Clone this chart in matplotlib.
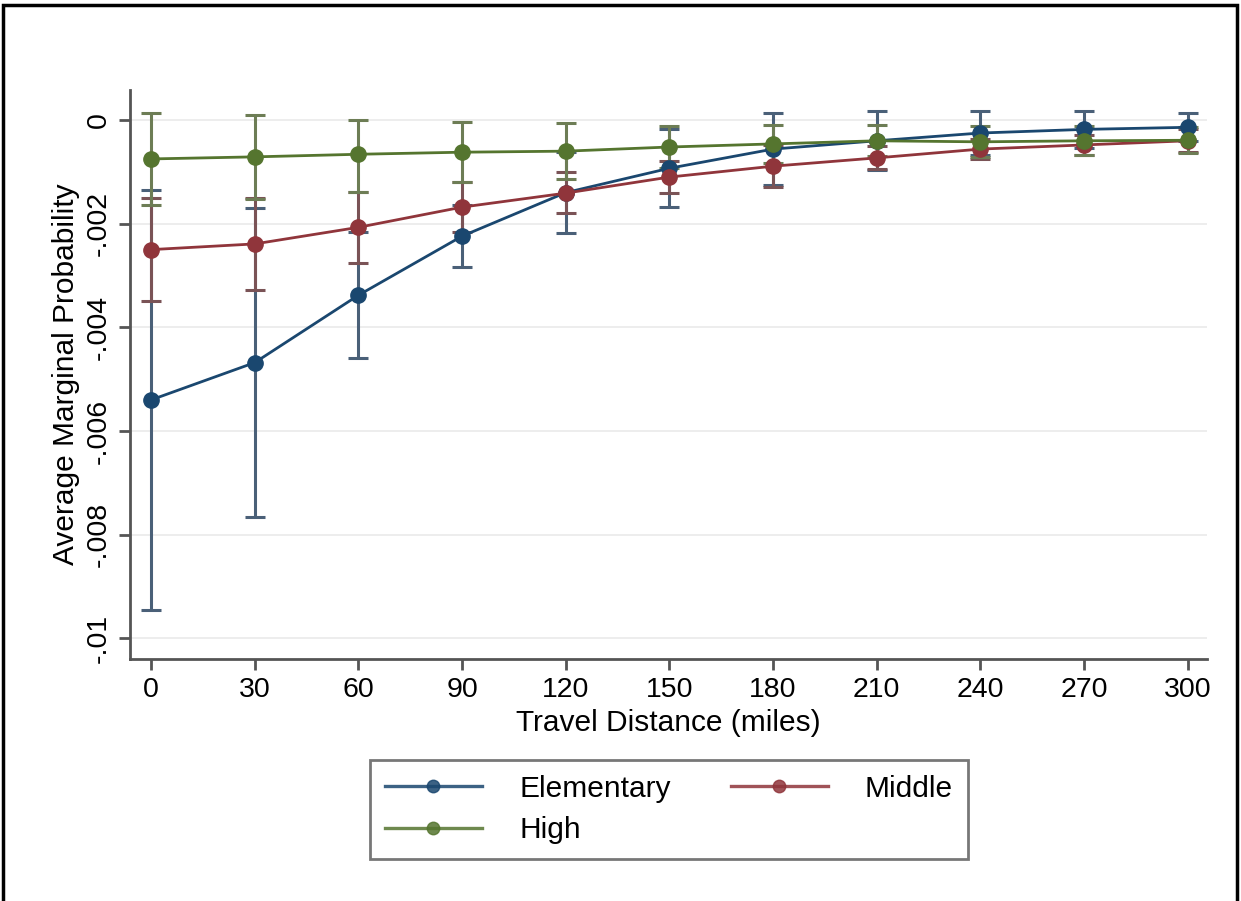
import numpy as np
import matplotlib
matplotlib.use("Agg")
import matplotlib.pyplot as plt
from matplotlib.lines import Line2D
from matplotlib.patches import Rectangle

plt.rcParams["font.family"] = ["Liberation Sans", "DejaVu Sans"]

# travel distance grid (miles)
distance = [0, 30, 60, 90, 120, 150, 180, 210, 240, 270, 300]

# average marginal effects with 95% CI bounds, by school level
elem_mean = [-0.0054, -0.00468, -0.00338, -0.00224, -0.0014, -0.00093, -0.00056, -0.0004, -0.00025, -0.00018, -0.00014]
elem_lo = [-0.00945, -0.00766, -0.0046, -0.00284, -0.00218, -0.00168, -0.00126, -0.00097, -0.00067, -0.00053, -0.00041]
elem_hi = [-0.00135, -0.0017, -0.00216, -0.00164, -0.00062, -0.00018, 0.00014, 0.00017, 0.00017, 0.00017, 0.00013]

mid_mean = [-0.0025, -0.00239, -0.00207, -0.00168, -0.00141, -0.0011, -0.00089, -0.00073, -0.00056, -0.00048, -0.0004]
mid_lo = [-0.0035, -0.00328, -0.00276, -0.00216, -0.0018, -0.00141, -0.00129, -0.00095, -0.00075, -0.00068, -0.00062]
mid_hi = [-0.0015, -0.0015, -0.00138, -0.0012, -0.001, -0.00079, -0.00049, -0.00051, -0.00037, -0.00028, -0.00018]

high_mean = [-0.00075, -0.00071, -0.00066, -0.00062, -0.0006, -0.00052, -0.00046, -0.0004, -0.00042, -0.0004, -0.00039]
high_lo = [-0.00163, -0.00152, -0.00139, -0.0012, -0.00114, -0.00092, -0.00082, -0.0007, -0.00072, -0.00068, -0.00064]
high_hi = [0.00013, 0.0001, 0.0, -0.00004, -0.00006, -0.00012, -0.0001, -0.0001, -0.00012, -0.00012, -0.00014]

y_ticks = [0, -0.002, -0.004, -0.006, -0.008, -0.01]
y_ticklabels = ["0", "-.002", "-.004", "-.006", "-.008", "-.01"]

series = [
    ("Elementary", elem_mean, elem_lo, elem_hi, "#1a476f", "#4a6078"),
    ("Middle", mid_mean, mid_lo, mid_hi, "#90353b", "#7a5356"),
    ("High", high_mean, high_lo, high_hi, "#55752f", "#6d7d55"),
]

fig = plt.figure(figsize=(12.41, 9.01), dpi=100)
ax = fig.add_axes([0.1048, 0.2686, 0.8678, 0.6315])

x = np.array(distance)
for name, mean, lo, hi, col, bar_col in series:
    mean = np.array(mean)
    yerr = np.vstack([mean - np.array(lo), np.array(hi) - mean])
    ax.errorbar(x, mean, yerr=yerr, fmt="none", ecolor=bar_col, elinewidth=2.2,
                capsize=7, capthick=2.2, zorder=2)
for name, mean, lo, hi, col, bar_col in series:
    ax.plot(x, mean, "-o", color=col, lw=2.0, ms=11, mec=col, zorder=3)

ax.set_xlim(-6.1, 305.6)
ax.set_ylim(-0.0104, 0.00058)
ax.set_xticks(distance)
ax.set_yticks(y_ticks)
ax.set_yticklabels(y_ticklabels, rotation=90, va="center")
ax.grid(axis="y", color="#ececec", lw=1.3)
ax.set_axisbelow(True)

for side in ["top", "right"]:
    ax.spines[side].set_visible(False)
for side in ["left", "bottom"]:
    ax.spines[side].set_color("#555555")
    ax.spines[side].set_linewidth(2)
ax.tick_params(axis="both", length=8, width=2, color="#555555", labelsize=20.5, pad=5)

ax.set_xlabel("Travel Distance (miles)", fontsize=21.5, labelpad=4)
ax.set_ylabel("Average Marginal Probability", fontsize=21.5, labelpad=4)

# legend filled row-wise: Elementary, Middle / High
leg_handles = [Line2D([], [], color=c, lw=2.4, marker="o", ms=9, alpha=0.85)
               for _, _, _, _, c, _ in series]
labels = [s[0] for s in series]
order = [0, 2, 1]
leg = fig.legend(handles=[leg_handles[i] for i in order], labels=[labels[i] for i in order],
                 loc="upper left", bbox_to_anchor=(370 / 1241, 1 - 760 / 901), ncol=2,
                 fontsize=21.5, frameon=True, fancybox=False, handlelength=3.25,
                 columnspacing=2.0, handletextpad=1.25, borderpad=0.5,
                 labelspacing=0.45, borderaxespad=0)
leg.get_frame().set_edgecolor("#555555")
leg.get_frame().set_linewidth(2)

# outer frame around the graph region
fig.patches.append(Rectangle((3 / 1241, -0.01), 1234 / 1241, 1 - 5 / 901 + 0.01,
                             transform=fig.transFigure, fill=False,
                             edgecolor="black", lw=2.5))

fig.savefig("out.png", dpi=100)
